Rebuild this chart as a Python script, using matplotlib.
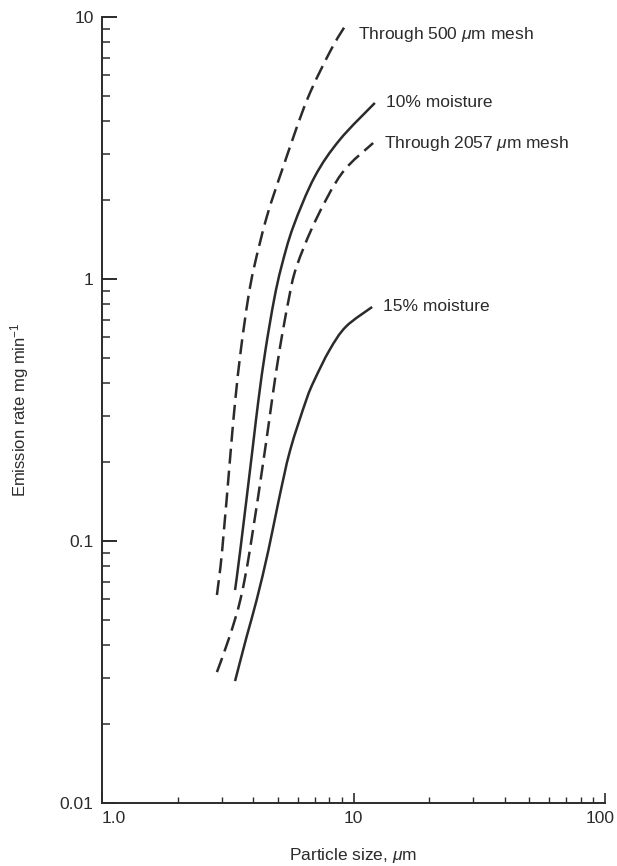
import matplotlib
matplotlib.use("Agg")
import matplotlib.pyplot as plt
from matplotlib.transforms import ScaledTranslation
from matplotlib.path import Path
from matplotlib.patches import PathPatch
import matplotlib.ticker as mticker
import numpy as np

plt.rcParams['font.family'] = ['Liberation Sans', 'DejaVu Sans']
plt.rcParams['mathtext.fontset'] = 'custom'
plt.rcParams['mathtext.rm'] = 'Liberation Sans'
plt.rcParams['mathtext.it'] = 'Liberation Sans:italic'

# ---- data ----
mesh500_x = [2.864, 3.006, 3.251, 3.388, 3.565, 3.802, 4.027, 4.519, 5.248, 6.531, 8.128, 9.419]
mesh500_y = [0.0622, 0.0925, 0.2223, 0.3451, 0.5358, 0.8318, 1.112, 1.726, 2.673, 4.819, 7.482, 9.484]

moist10_x = [3.381, 3.548, 3.963, 4.188, 4.467, 4.831, 5.164, 5.754, 6.998, 8.810, 12.16]
moist10_y = [0.0650, 0.0925, 0.222, 0.345, 0.536, 0.832, 1.11, 1.578, 2.449, 3.396, 4.699]

mesh2057_x = [2.864, 3.214, 3.548, 3.873, 4.446, 4.742, 5.082, 5.521, 5.929, 7.079, 9.016, 11.97]
mesh2057_y = [0.0316, 0.0431, 0.0596, 0.0925, 0.222, 0.345, 0.536, 0.832, 1.11, 1.679, 2.541, 3.304]

moist15_x = [3.381, 3.758, 4.121, 4.592, 5.047, 5.598, 6.486, 6.998, 8.035, 9.333, 11.86]
moist15_y = [0.0292, 0.0431, 0.0596, 0.0925, 0.1435, 0.222, 0.345, 0.412, 0.536, 0.658, 0.782]

labels = ["Through 500 $\\mu$m mesh", "10% moisture", "Through 2057 $\\mu$m mesh", "15% moisture"]
label_dy = [-8.5, 0, 0, 0]

x_ticks = [1, 10, 100]
x_ticklabels = ["1.0", "10", "100"]
y_ticks = [0.01, 0.1, 1, 10]
y_ticklabels = ["0.01", "0.1", "1", "10"]

ink = '#2b2b2b'


def smooth_path(xs, ys):
    """Smooth curve (cubic Bezier segments) passing through the given points,
    control points built in log-log space and handed to the axes' data transform."""
    u = np.log10(np.asarray(xs, float))
    v = np.log10(np.asarray(ys, float))
    p = np.column_stack([u, v])
    n = len(p)
    verts = [p[0]]
    codes = [Path.MOVETO]
    for i in range(n - 1):
        p0 = p[i - 1] if i > 0 else p[i]
        p1 = p[i]
        p2 = p[i + 1]
        p3 = p[i + 2] if i + 2 < n else p[i + 1]
        c1 = p1 + (p2 - p0) / 6.0
        c2 = p2 - (p3 - p1) / 6.0
        verts += [c1, c2, p2]
        codes += [Path.CURVE4] * 3
    verts = 10 ** np.array(verts)
    return Path(verts, codes)


fig = plt.figure(figsize=(6.17, 8.66), dpi=100)
ax = fig.add_axes([102/617, 1-803/866, (605-102)/617, (803-17)/866])

ax.set_xscale('log')
ax.set_yscale('log')
ax.set_xlim(1, 100)
ax.set_ylim(0.01, 10)

dash = (0, (6.0, 2.8))
series = [
    (mesh500_x, mesh500_y, dash),
    (moist10_x, moist10_y, '-'),
    (mesh2057_x, mesh2057_y, dash),
    (moist15_x, moist15_y, '-'),
]
for (xs, ys, ls), lab, dy in zip(series, labels, label_dy):
    patch = PathPatch(smooth_path(xs, ys), facecolor='none', edgecolor=ink, lw=1.8,
                      linestyle=ls, capstyle='butt', joinstyle='round')
    ax.add_patch(patch)
    ax.annotate(lab, xy=(xs[-1], ys[-1]), xytext=(8, dy), textcoords='offset points',
                fontsize=12.5, color=ink, va='center', ha='left')

for s in ['top', 'right']:
    ax.spines[s].set_visible(False)
for s in ['left', 'bottom']:
    ax.spines[s].set_linewidth(1.4)
    ax.spines[s].set_color(ink)

ax.set_xticks(x_ticks)
ax.set_xticklabels(x_ticklabels)
ax.set_yticks(y_ticks)
ax.set_yticklabels(y_ticklabels)

ax.tick_params(axis='y', which='major', direction='in', length=10.5, width=1.4, color=ink,
               labelsize=12.5, labelcolor=ink, pad=6)
ax.tick_params(axis='y', which='minor', direction='in', length=5.5, width=1.1, color=ink)
ax.tick_params(axis='x', which='major', direction='in', length=7.5, width=1.2, color=ink,
               labelsize=12.5, labelcolor=ink, pad=6)
ax.tick_params(axis='x', which='minor', direction='in', length=4, width=1.0, color=ink)
ax.yaxis.set_minor_formatter(mticker.NullFormatter())
ax.xaxis.set_minor_formatter(mticker.NullFormatter())

xt = ax.get_xticklabels()
xt[0].set_horizontalalignment('left')
xt[-1].set_transform(xt[-1].get_transform() + ScaledTranslation(-0.05, 0, fig.dpi_scale_trans))

ax.set_xlabel("Particle size, $\\mu$m", fontsize=12.5, color=ink, labelpad=14)
ax.set_ylabel("Emission rate mg min$^{-1}$", fontsize=12, color=ink)
ax.yaxis.set_label_coords(-0.142, 0.5)

fig.savefig("out.png", dpi=100, facecolor='white')
